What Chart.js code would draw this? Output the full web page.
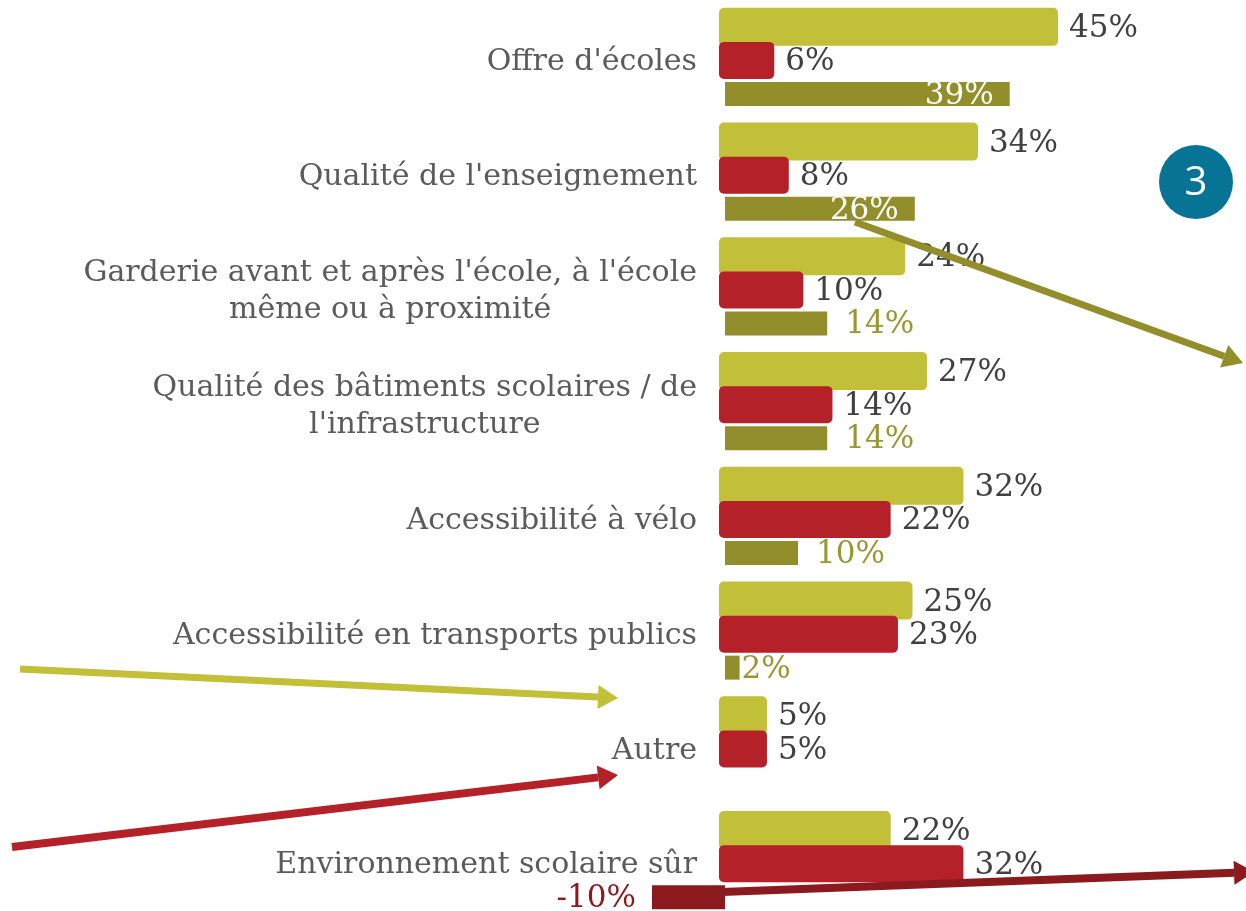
<!DOCTYPE html>
<html>
<head>
<meta charset="utf-8">
<script src="https://cdn.jsdelivr.net/npm/chart.js@4/dist/chart.umd.min.js"></script>
<style>
  html, body { margin: 0; padding: 0; background: #fff; overflow: hidden; }
  #wrap { position: relative; width: 1246px; height: 921px; }
</style>
</head>
<body>
<div id="wrap"><canvas id="chart"></canvas></div>
<script>
const categories = [
  "Offre d'écoles",
  "Qualité de l'enseignement",
  ["Garderie avant et après l'école, à l'école", "même ou à proximité"],
  ["Qualité des bâtiments scolaires / de", "l'infrastructure"],
  "Accessibilité à vélo",
  "Accessibilité en transports publics",
  "Autre",
  "Environnement scolaire sûr"
];
const seriesLight = [45, 34, 24, 27, 32, 25, 5, 22];
const seriesRed = [6, 8, 10, 14, 22, 23, 5, 32];
const difference = [39, 26, 14, 14, 10, 2, null, -10];

const LIGHT = "#c2bf38";
const RED = "#b52128";
const OLIVE = "#918e2b";
const DARKRED = "#8a1a1e";
const SERIF = '"DejaVu Serif", serif';

// arrow helper, pixel coords are annotations only
function arrow(ctx, x1, y1, x2, y2, color, w) {
  const a = Math.atan2(y2 - y1, x2 - x1);
  const len = 20, half = 12;
  const bx = x2 - len * Math.cos(a), by = y2 - len * Math.sin(a);
  ctx.strokeStyle = color;
  ctx.fillStyle = color;
  ctx.lineWidth = w;
  ctx.beginPath();
  ctx.moveTo(x1, y1);
  ctx.lineTo(bx, by);
  ctx.stroke();
  ctx.beginPath();
  ctx.moveTo(x2, y2);
  ctx.lineTo(bx + half * Math.sin(a), by - half * Math.cos(a));
  ctx.lineTo(bx - half * Math.sin(a), by + half * Math.cos(a));
  ctx.closePath();
  ctx.fill();
}

const labelPlugin = {
  id: "labels",
  afterDatasetsDraw(chart) {
    const ctx = chart.ctx;
    const yScale = chart.scales.y;
    ctx.save();
    ctx.textBaseline = "middle";

    // category labels, block right aligned, lines centred
    ctx.font = "30px " + SERIF;
    ctx.fillStyle = "#5b5b5b";
    ctx.textAlign = "center";
    const right = chart.chartArea.left - 28;
    categories.forEach((lab, i) => {
      const lines = Array.isArray(lab) ? lab : [lab];
      const cy = yScale.getPixelForValue(i) + 2;
      const w = Math.max(...lines.map(l => ctx.measureText(l).width));
      lines.forEach((l, k) => {
        ctx.fillText(l, right - w / 2, cy + (k - (lines.length - 1) / 2) * 37);
      });
    });

    // value labels
    ctx.font = "31px " + SERIF;
    chart.data.datasets.forEach((ds, di) => {
      const meta = chart.getDatasetMeta(di);
      if (!ds.key) return;
      meta.data.forEach((el, i) => {
        const v = ds.data[i];
        if (v === null || v === undefined) return;
        const txt = v + "%";
        const ty = el.y + 2;
        if (ds.key === "diff") {
          if (v < 0) {
            ctx.fillStyle = DARKRED;
            ctx.textAlign = "right";
            ctx.fillText(txt, el.x - 16, ty);
          } else if (v >= 20) {
            ctx.fillStyle = "#ffffff";
            ctx.textAlign = "right";
            ctx.fillText(txt, el.x - 16, ty);
          } else {
            ctx.fillStyle = "#9a9632";
            ctx.textAlign = "left";
            ctx.fillText(txt, el.x + (v < 5 ? 2 : 18), ty);
          }
        } else {
          ctx.fillStyle = "#404040";
          ctx.textAlign = "left";
          ctx.fillText(txt, el.x + 11, ty);
        }
      });
    });

    // arrows
    ctx.lineCap = "butt";
    arrow(ctx, 855, 222, 1243, 363, OLIVE, 7);
    arrow(ctx, 20, 669, 618, 698, LIGHT, 7);
    arrow(ctx, 12, 847, 618, 775, RED, 8);
    arrow(ctx, 722, 892, 1254, 872, DARKRED, 8);

    // badge
    ctx.fillStyle = "#077495";
    ctx.beginPath();
    ctx.arc(1196, 182, 37, 0, Math.PI * 2);
    ctx.fill();
    ctx.fillStyle = "#ffffff";
    ctx.font = '40px "Open Sans", sans-serif';
    ctx.textAlign = "center";
    ctx.fillText("3", 1196, 184);
    ctx.restore();
  }
};

const common = { categoryPercentage: 0.876, barPercentage: 1.14, clip: false };

new Chart(document.getElementById("chart"), {
  type: "bar",
  data: {
    labels: categories,
    datasets: [
      // empty placeholder so the light bars keep the top slot while red is painted over them
      { ...common, data: categories.map(() => null), stack: "a", order: 0, xAxisID: "x2" },
      { ...common, key: "red", data: seriesRed, stack: "b", order: 1, base: -1.6, xAxisID: "x2",
        backgroundColor: RED, borderRadius: 5, borderSkipped: false, maxBarThickness: 37 },
      { ...common, key: "light", data: seriesLight, stack: "a", order: 2, base: -1.6, xAxisID: "x2",
        backgroundColor: LIGHT, borderRadius: 5, borderSkipped: false, maxBarThickness: 38 },
      { ...common, key: "diff", data: difference, stack: "c", order: 3, xAxisID: "x",
        backgroundColor: c => (c.raw < 0 ? DARKRED : OLIVE), borderRadius: 0, maxBarThickness: 24 }
    ]
  },
  options: {
    indexAxis: "y",
    responsive: true,
    maintainAspectRatio: false,
    animation: false,
    layout: { padding: { top: 3, right: 83, left: 0, bottom: 0 } },
    plugins: { legend: { display: false }, tooltip: { enabled: false } },
    scales: {
      x: { display: false, stacked: false, min: 0, max: 60 },
      x2: { type: "linear", display: false, stacked: false, min: -0.77, max: 59.43 },
      y: {
        grid: { display: false, drawTicks: false },
        border: { display: false },
        ticks: { display: false },
        afterFit: s => { s.width = 725; }
      }
    }
  },
  plugins: [labelPlugin]
});
</script>
</body>
</html>
